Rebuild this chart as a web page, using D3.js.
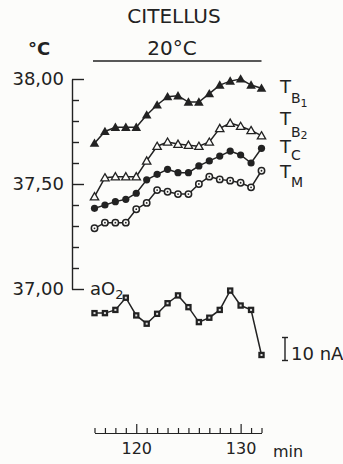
<!DOCTYPE html>
<html><head><meta charset="utf-8">
<script src="https://cdn.jsdelivr.net/npm/d3@7"></script>
<style>
html,body{margin:0;padding:0;background:#fcfcfa;}
svg{display:block;font-family:"DejaVu Sans",sans-serif;}
</style></head>
<body><svg id="c" width="343" height="464"></svg>
<script>
// ---- data ----
const minutes = [116,117,118,119,120,121,122,123,124,125,126,127,128,129,130,131,132];
const tB1 = [37.694,37.75,37.77,37.77,37.77,37.829,37.876,37.916,37.92,37.89,37.89,37.93,37.971,37.99,38.0,37.971,37.956];
const tB2 = [37.44,37.53,37.535,37.535,37.535,37.61,37.68,37.70,37.69,37.685,37.68,37.70,37.765,37.79,37.775,37.755,37.73];
const tC  = [37.384,37.40,37.416,37.427,37.456,37.52,37.546,37.57,37.554,37.554,37.586,37.61,37.633,37.657,37.638,37.60,37.67];
const tM  = [37.289,37.316,37.316,37.316,37.38,37.41,37.471,37.463,37.452,37.452,37.50,37.535,37.522,37.516,37.506,37.484,37.563];
const aO2 = [20.6,20.6,22.0,27.3,19.6,16.0,20.3,24.9,28.3,23.2,16.7,18.6,22.0,30.4,23.9,22.0,2.4]; // nA (relative)
const yTicks = [37.0,37.1,37.2,37.3,37.4,37.5,37.6,37.7,37.8,37.9,38.0];
const yLabelTicks = [37.0,37.5,38.0];
const xLabelTicks = [120,130];
const scaleBarNA = 10;

const ink = "#222";
const svg = d3.select("#c");

const x = d3.scaleLinear().domain([116,132]).range([94.5,261.5]);
const y = d3.scaleLinear().domain([37,38]).range([289,79]);
const yO = d3.scaleLinear().domain([0,10]).range([360.5,337.5]);

const loc = d3.formatLocale({decimal:",",thousands:".",grouping:[3],currency:["",""]});
const fmt = loc.format(".2f");

// titles
svg.append("text").attr("x",174).attr("y",23).attr("text-anchor","middle")
  .attr("font-size",20).attr("fill",ink).text("CITELLUS");
svg.append("text").attr("x",172).attr("y",55).attr("text-anchor","middle")
  .attr("font-size",20).attr("fill",ink).text("20°C");
svg.append("line").attr("x1",x(116)-1.5).attr("x2",x(132)).attr("y1",61).attr("y2",61)
  .attr("stroke",ink).attr("stroke-width",1.5);
svg.append("text").attr("x",28).attr("y",55).attr("font-size",18).attr("font-weight","bold")
  .attr("fill",ink).text("°C");

// y axis
const yAxis = d3.axisLeft(y).tickValues(yTicks).tickSize(-7).tickSizeOuter(0).tickPadding(8)
  .tickFormat(d => yLabelTicks.some(v=>Math.abs(v-d)<1e-6) ? fmt(d) : "");
const gy = svg.append("g").attr("transform","translate(72,0)").call(yAxis);
gy.selectAll("path,line").attr("stroke",ink).attr("stroke-width",1.4);
gy.selectAll(".tick").filter(d=>yLabelTicks.some(v=>Math.abs(v-d)<1e-6))
  .select("line").attr("x2",12);
gy.selectAll("text").attr("font-size",18).attr("fill",ink).attr("font-family","DejaVu Sans");

// x axis
const xAxis = d3.axisBottom(x).tickValues(minutes).tickSize(-5).tickSizeOuter(0).tickPadding(10)
  .tickFormat(d => xLabelTicks.includes(d) ? String(d) : "");
const gx = svg.append("g").attr("transform","translate(0,433)").call(xAxis);
gx.selectAll("path,line").attr("stroke",ink).attr("stroke-width",1.2);
gx.selectAll(".tick").filter(d=>xLabelTicks.includes(d)).select("line").attr("y2",-9);
gx.selectAll("text").attr("font-size",16).attr("fill",ink).attr("font-family","DejaVu Sans");
svg.append("text").attr("x",273).attr("y",457).attr("font-size",16).attr("fill",ink).text("min");

// series
const line = (ys, vals) => d3.line().x((d,i)=>x(minutes[i])).y(d=>ys(d))(vals);
function drawSeries(vals, ys, kind){
  svg.append("path").attr("d",line(ys,vals)).attr("fill","none")
    .attr("stroke",ink).attr("stroke-width",1.5);
  const g = svg.append("g");
  vals.forEach((v,i)=>{
    const cx = x(minutes[i]), cy = ys(v);
    if(kind==="triF"){
      g.append("path").attr("d",d3.symbol(d3.symbolTriangle,40)()).attr("transform",`translate(${cx},${cy+0.8})`)
        .attr("fill",ink);
    } else if(kind==="triO"){
      g.append("path").attr("d",d3.symbol(d3.symbolTriangle,30)()).attr("transform",`translate(${cx},${cy+0.8})`)
        .attr("fill","#fcfcfa").attr("stroke",ink).attr("stroke-width",1.3);
    } else if(kind==="cirF"){
      g.append("circle").attr("cx",cx).attr("cy",cy).attr("r",3.6).attr("fill",ink);
    } else if(kind==="cirO"){
      g.append("circle").attr("cx",cx).attr("cy",cy).attr("r",3.2).attr("fill","#fcfcfa")
        .attr("stroke",ink).attr("stroke-width",1.5);
      g.append("circle").attr("cx",cx).attr("cy",cy).attr("r",0.9).attr("fill",ink);
    } else if(kind==="sq"){
      g.append("rect").attr("x",cx-3.2).attr("y",cy-3.2).attr("width",6.4).attr("height",6.4).attr("fill",ink);
      g.append("rect").attr("x",cx-1).attr("y",cy-1).attr("width",2).attr("height",2).attr("fill","#ddd");
    }
  });
}
drawSeries(tB1, y, "triF");
drawSeries(tB2, y, "triO");
drawSeries(tC, y, "cirF");
drawSeries(tM, y, "cirO");
drawSeries(aO2, yO, "sq");

// series labels
function label(xp, yp, main, sub, subDy, sub2, sub2Dy){
  const t = svg.append("text").attr("x",xp).attr("y",yp).attr("font-size",18).attr("fill",ink);
  t.append("tspan").text(main);
  t.append("tspan").attr("font-size",14).attr("dy",subDy).text(sub);
  if(sub2) t.append("tspan").attr("font-size",11).attr("dy",sub2Dy).text(sub2);
}
label(280,93,"T","B",10,"1",4);
label(280,125,"T","B",12,"2",2);
label(280,153,"T","C",7);
label(280,178,"T","M",9);
const ao = svg.append("text").attr("x",90).attr("y",295).attr("font-size",18).attr("fill",ink);
ao.append("tspan").text("aO");
ao.append("tspan").attr("font-size",13).attr("dy",4).text("2");

// scale bar 10 nA
const sb = svg.append("g").attr("stroke",ink).attr("stroke-width",1.4);
sb.append("line").attr("x1",285).attr("x2",285).attr("y1",yO(0)).attr("y2",yO(scaleBarNA));
sb.append("line").attr("x1",282).attr("x2",288).attr("y1",yO(0)).attr("y2",yO(0));
sb.append("line").attr("x1",282).attr("x2",288).attr("y1",yO(scaleBarNA)).attr("y2",yO(scaleBarNA));
svg.append("text").attr("x",291).attr("y",360).attr("font-size",18).attr("fill",ink).text("10 nA");
</script></body></html>
